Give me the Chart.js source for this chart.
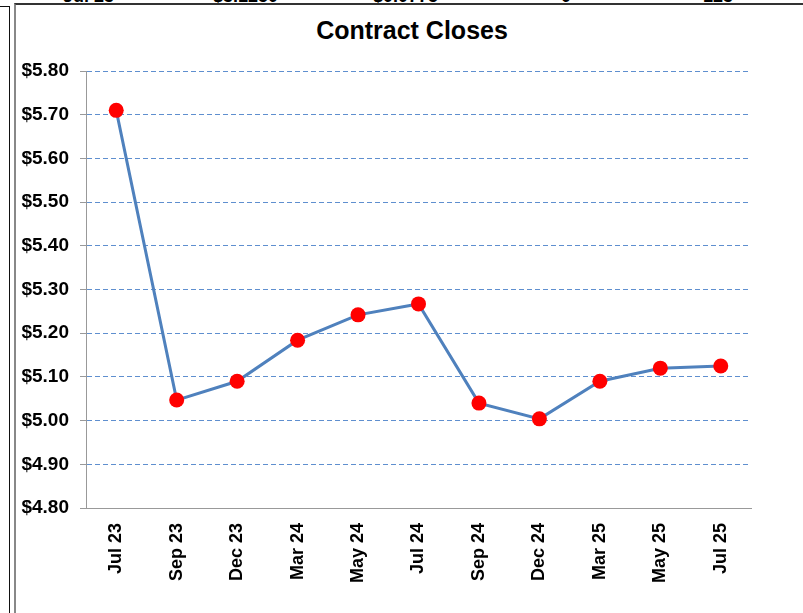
<!DOCTYPE html>
<html>
<head>
<meta charset="utf-8">
<script src="https://cdn.jsdelivr.net/npm/chart.js@4.4.1/dist/chart.umd.min.js"></script>
<style>
  html, body { margin: 0; padding: 0; background: #fff; }
  body { width: 803px; height: 613px; position: relative; overflow: hidden;
         font-family: "Liberation Sans", Arial, sans-serif; }
  .toprow span { position: absolute; top: -13px; font: bold 18px/18px "Liberation Sans", Arial, sans-serif; color: #000; white-space: nowrap; }
  .edge-black { position: absolute; left: 9px; top: 6px; width: 1px; height: 620px; background: #111; }
  .edge-tick  { position: absolute; left: 0; top: 6px; width: 10px; height: 1px; background: #111; }
  .frame { position: absolute; left: 14px; top: 3px; width: 800px; height: 620px;
           border-left: 2px solid #888; border-top: 2px solid #333; box-sizing: border-box; }
  .title { position: absolute; left: 16px; width: 792px; top: 15px; text-align: center;
           font: bold 25px/30px "Liberation Sans", Arial, sans-serif; color: #000; }
  #wrap { position: absolute; left: 0; top: 0; width: 803px; height: 613px; }
</style>
</head>
<body>
<div class="toprow">
  <span style="left:63px">Jul 23</span>
  <span style="left:213px">$3.1250</span>
  <span style="left:373px">$0.0775</span>
  <span style="left:561px">0</span>
  <span style="left:703px">123</span>
</div>
<div class="edge-tick"></div>
<div class="edge-black"></div>
<div class="frame"></div>
<div class="title">Contract Closes</div>
<div id="wrap"><canvas id="chart" width="803" height="613"></canvas></div>
<script>
/* ── data ── */
const MONTHS = ["Jul 23", "Sep 23", "Dec 23", "Mar 24", "May 24", "Jul 24",
                "Sep 24", "Dec 24", "Mar 25", "May 25", "Jul 25"];
const CLOSES = [5.71, 5.047, 5.09, 5.184, 5.242, 5.267, 5.04, 5.004, 5.09, 5.12, 5.125];
const Y_MIN = 4.80;
const Y_MAX = 5.80;
const Y_STEP = 0.10;

const FONT = "'Liberation Sans', Arial, sans-serif";
Chart.defaults.font.family = FONT;
Chart.defaults.color = "#000";

new Chart(document.getElementById("chart").getContext("2d"), {
  type: "line",
  data: {
    labels: MONTHS,
    datasets: [{
      data: CLOSES,
      borderColor: "#4f81bd",
      borderWidth: 3,
      pointRadius: 7.5,
      pointBackgroundColor: "#ff0000",
      pointBorderColor: "#ff0000",
      pointBorderWidth: 0,
      tension: 0,
    }],
  },
  options: {
    responsive: false,
    animation: false,
    layout: { padding: { left: 0, right: 52, top: 71, bottom: 0 } },
    plugins: {
      legend: { display: false },
      tooltip: { enabled: false },
      title: { display: false },
    },
    scales: {
      x: {
        offset: true,
        grid: { display: false },
        border: { display: true, color: "#999", width: 1 },
        ticks: {
          minRotation: 90, maxRotation: 90, padding: 7,
          font: { size: 18, weight: "bold" },
        },
        afterFit: s => { s.height = 105; },
      },
      y: {
        min: Y_MIN, max: Y_MAX,
        grid: {
          color: ctx => ctx.tick && Math.abs(ctx.tick.value - Y_MIN) < 1e-6 ? "rgba(0,0,0,0)" : "#5f8fcf",
          lineWidth: 1,
          drawTicks: true,
          tickLength: 6,
          tickColor: "#999",
          tickBorderDash: [],
        },
        border: { display: true, color: "#999", width: 1, dash: [5, 3] },
        ticks: {
          stepSize: Y_STEP, padding: 11,
          font: { size: 19, weight: "bold" },
          callback: v => "$" + Number(v).toFixed(2),
        },
        afterFit: s => { s.width = 86; },
      },
    },
  },
});
</script>
</body>
</html>
